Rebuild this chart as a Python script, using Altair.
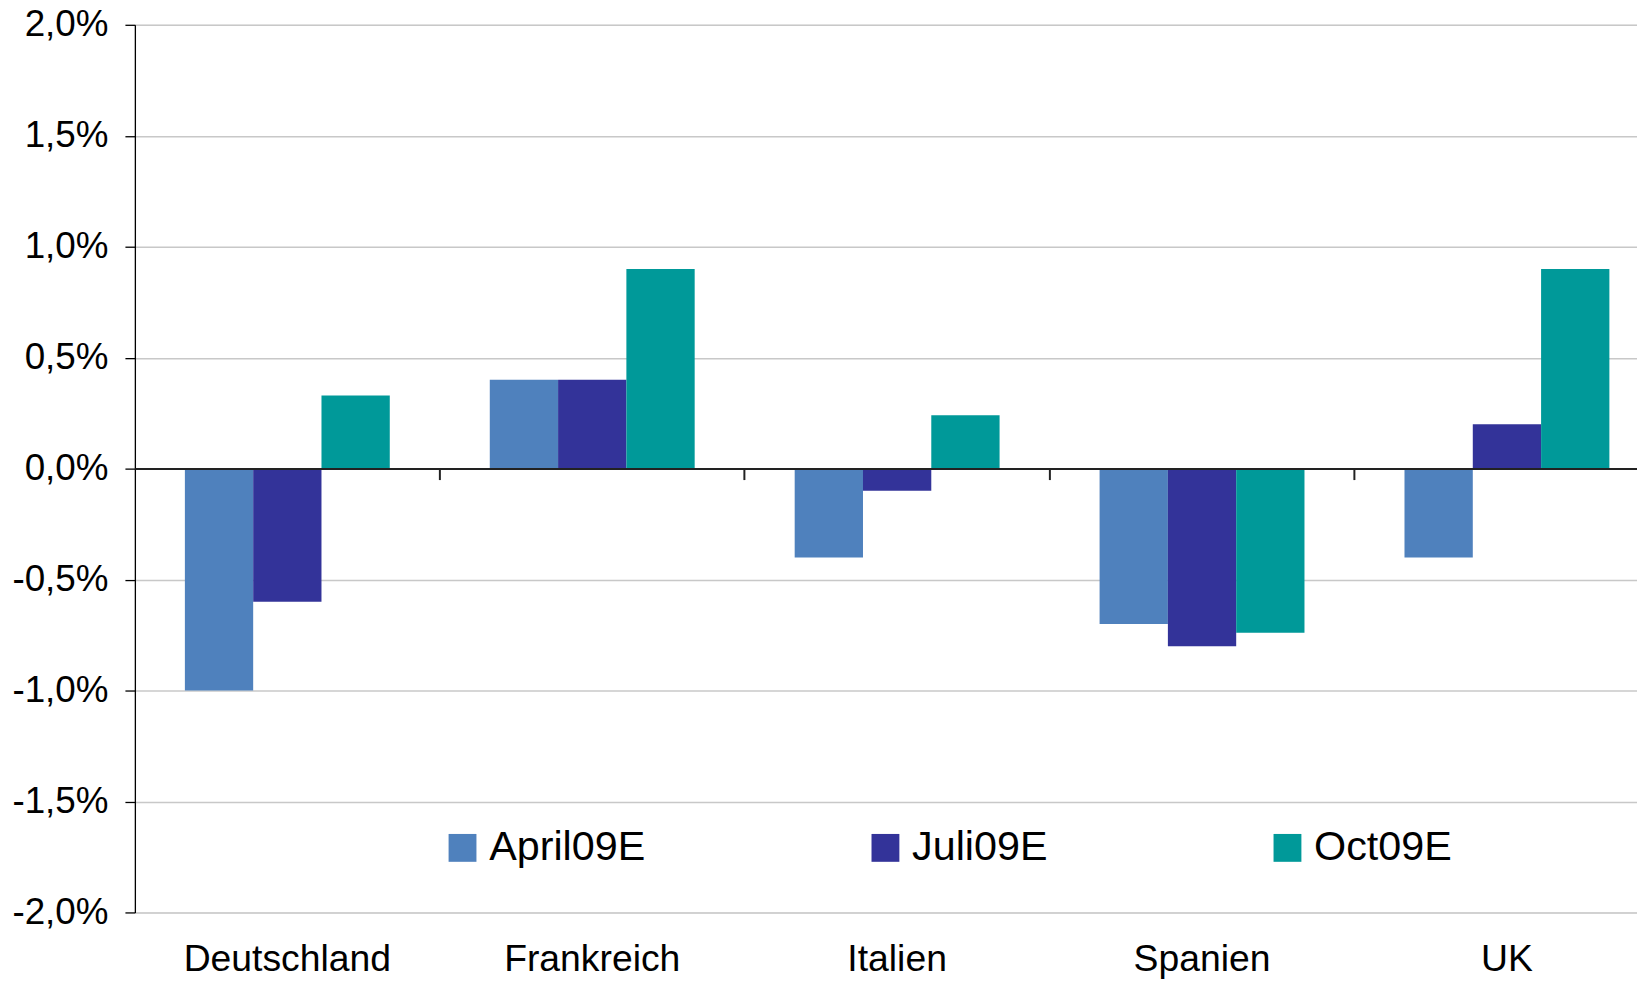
import altair as alt
import pandas as pd

# ---- data (values in %) ----
laender = ["Deutschland", "Frankreich", "Italien", "Spanien", "UK"]
serien = ["April09E", "Juli09E", "Oct09E"]
april09e = [-1.0, 0.4, -0.4, -0.7, -0.4]
juli09e = [-0.6, 0.4, -0.1, -0.8, 0.2]
oct09e = [0.33, 0.9, 0.24, -0.74, 0.9]
y_ticks = [-2.0, -1.5, -1.0, -0.5, 0.0, 0.5, 1.0, 1.5, 2.0]
farben = ["#4F81BD", "#333399", "#009999"]
titel = "BIP-Wachstumsprognosen für 2010 (%)"

rows = []
for serie, werte in zip(serien, [april09e, juli09e, oct09e]):
    for land, w in zip(laender, werte):
        rows.append({"Land": land, "Serie": serie, "Wert": w})
df = pd.DataFrame(rows)

FONT = "Liberation Sans"
H = 892
W = 1509.5
XR = 1532

y_enc = alt.Y(
    "Wert:Q",
    scale=alt.Scale(domain=[-2, 2], nice=False, zero=False),
    axis=alt.Axis(
        values=y_ticks,
        labelExpr="replace(replace(format(datum.value, '.1f'), '.', ','), '\u2212', '-') + '%'",
        title=None,
        grid=True,
        gridColor="#c8c8c8",
        gridWidth=1.5,
        domain=True,
        domainColor="#000000",
        domainWidth=1.3,
        ticks=True,
        tickColor="#000000",
        tickWidth=1.3,
        tickSize=10,
        labelFontSize=37,
        labelFont=FONT,
        labelColor="#000000",
        labelPadding=17,
    ),
)

bars = alt.Chart(df).mark_bar().encode(
    x=alt.X(
        "Land:N",
        sort=laender,
        scale=alt.Scale(range=[0, XR], paddingInner=0.328, paddingOuter=0.164),
        axis=alt.Axis(
            orient="bottom",
            title=None,
            domain=False,
            ticks=False,
            tickSize=0,
            grid=False,
            labelAngle=0,
            labelFontSize=37.5,
            labelFont=FONT,
            labelColor="#000000",
            labelPadding=28,
            labelLimit=600,
        ),
    ),
    xOffset=alt.XOffset("Serie:N", sort=serien, scale=alt.Scale(paddingInner=0, paddingOuter=0)),
    y=y_enc,
    color=alt.Color(
        "Serie:N",
        sort=serien,
        scale=alt.Scale(domain=serien, range=farben),
        legend=alt.Legend(
            orient="none",
            legendX=308.5,
            legendY=806,
            direction="horizontal",
            columns=3,
            columnPadding=220,
            title=None,
            padding=0,
            symbolType="square",
            symbolSize=784,
            symbolStrokeWidth=0,
            labelFontSize=41.5,
            labelFont=FONT,
            labelColor="#000000",
            labelOffset=6,
            labelLimit=600,
        ),
    ),
)

zero_axis = alt.Chart(df).mark_rule(opacity=0).encode(
    x=alt.X(
        "Land:N",
        sort=laender,
        scale=alt.Scale(range=[0, XR], paddingInner=0, paddingOuter=0),
        axis=alt.Axis(
            orient="bottom",
            offset=-H / 2,
            title=None,
            labels=False,
            grid=False,
            domain=True,
            domainColor="#222222",
            domainWidth=2,
            ticks=True,
            tickColor="#222222",
            tickWidth=2,
            tickSize=11,
            bandPosition=1,
            zindex=2,
        ),
    ),
)

chart = (
    alt.layer(bars, zero_axis)
    .resolve_scale(x="independent")
    .properties(
        width=W,
        height=H,
        autosize=alt.AutoSizeParams(type="none"),
        padding={"left": 127.5, "top": 14.5, "right": 0, "bottom": 64},
        title=alt.TitleParams(
            text=titel,
            font=FONT,
            fontSize=46,
            fontWeight="bold",
            color="#000000",
            anchor="middle",
            baseline="alphabetic",
            offset=-8,
            dx=120,
        ),
    )
    .configure_view(stroke=None)
    .configure(font=FONT, background="#ffffff")
)

chart.save("out.html", embed_options={"renderer": "svg", "actions": False})
